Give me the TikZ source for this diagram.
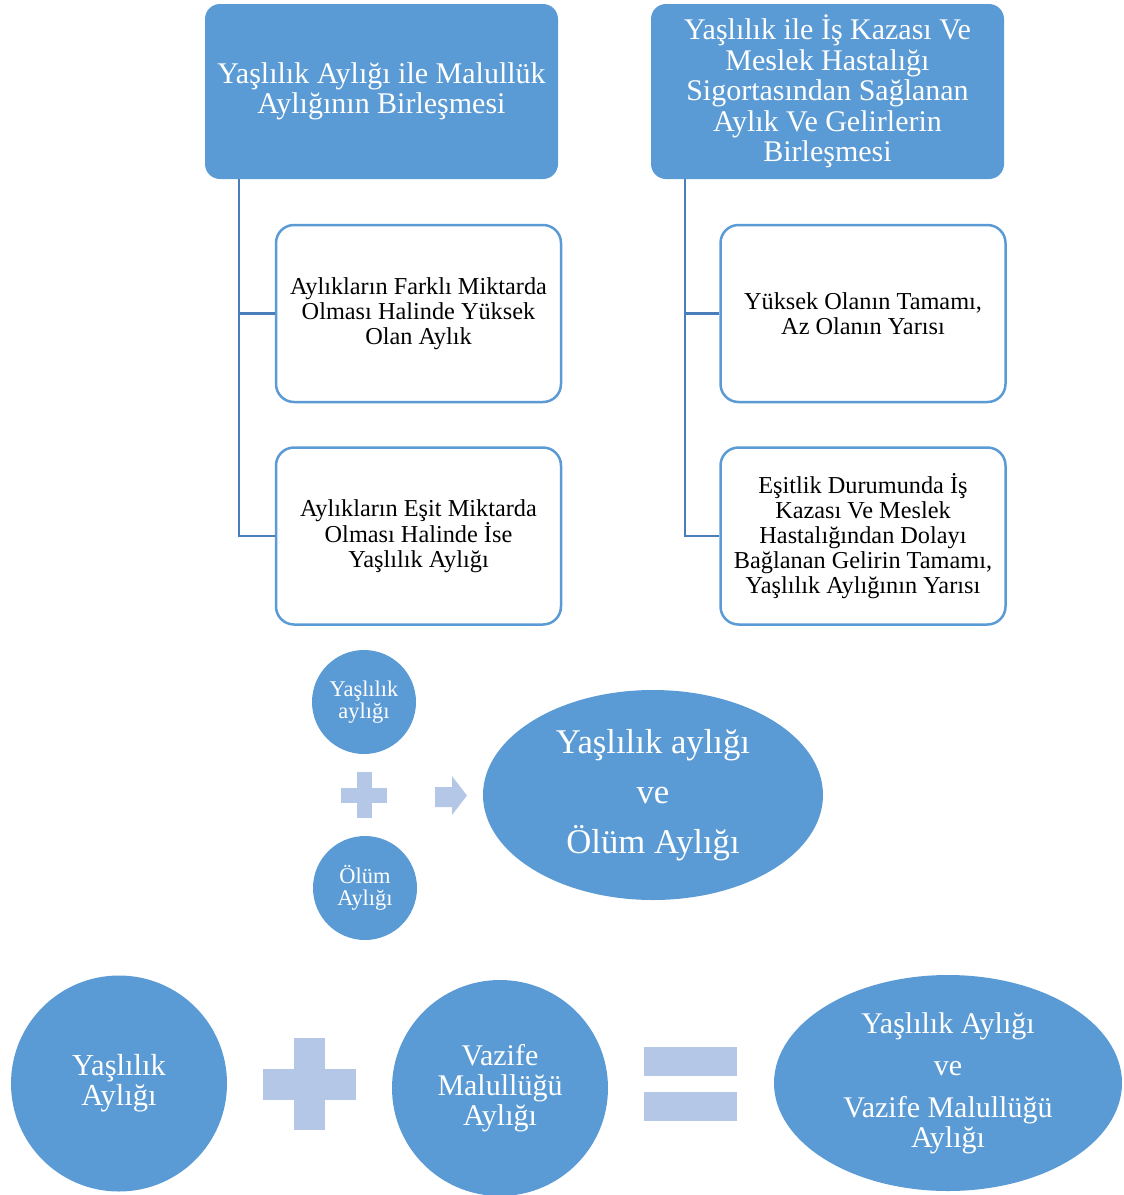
\documentclass[tikz,border=0pt]{standalone}
\usepackage{fontspec}
\setmainfont{Liberation Serif}
\usetikzlibrary{shapes.geometric}
\definecolor{boxblue}{HTML}{5B9BD5}
\definecolor{lineblue}{HTML}{4A7EBB}
\definecolor{paleblue}{HTML}{B4C7E7}

\begin{document}
\begin{tikzpicture}[x=1pt,y=-1pt]
        \useasboundingbox (0,0) rectangle (1124,1195);

        % two headings
        \begin{scope}[every node/.style={fill=boxblue,rounded corners=15pt,minimum width=353pt,minimum height=175pt,
            text=white,align=center,inner sep=0pt,font=\fontsize{30}{30.5}\selectfont}]
          \node (a) at (381.5,91.5) {Yaşlılık Aylığı ile Malullük\\Aylığının Birleşmesi};
          \node (b) at (827.5,91.5) {Yaşlılık ile İş Kazası Ve\\Meslek Hastalığı\\Sigortasından Sağlanan\\Aylık Ve Gelirlerin\\Birleşmesi};
        \end{scope}

        \begin{scope}[every node/.style={draw=boxblue,line width=2.5pt,fill=white,rounded corners=18pt,minimum width=285pt,
            minimum height=177pt,align=center,inner sep=0pt,font=\fontsize{24.3}{25}\selectfont}]
          \node (a1) at (418.5,313.5) {Aylıkların Farklı Miktarda\\Olması Halinde Yüksek\\Olan Aylık};
          \node (a2) at (418.5,536)   {Aylıkların Eşit Miktarda\\Olması Halinde İse\\Yaşlılık Aylığı};
          \node (b1) at (863,313.5)   {Yüksek Olanın Tamamı,\\Az Olanın Yarısı};
          \node (b2) at (863,536)     {Eşitlik Durumunda İş\\Kazası Ve Meslek\\Hastalığından Dolayı\\Bağlanan Gelirin Tamamı,\\Yaşlılık Aylığının Yarısı};
        \end{scope}

        \coordinate (a0) at ([xshift=34pt]a.south west);
        \coordinate (b0) at ([xshift=34pt]b.south west);

        \begin{scope}[lineblue,line width=2.5pt]
          \draw (a0) |- (a1.west);
          \draw (a0) |- (a2.west);
          \draw (b0) |- (b1.west);
          \draw (b0) |- (b2.west);
        \end{scope}

        % plus and arrow
        \begin{scope}[every node/.style={fill=boxblue,text=white,align=center,inner sep=0pt}]
          \node[circle,minimum size=104pt,font=\fontsize{22.4}{22}\selectfont] (c1) at (364,702) {Yaşlılık\\aylığı};
          \node[circle,minimum size=104pt,font=\fontsize{22.4}{22}\selectfont] (c2) at (365,888) {Ölüm\\Aylığı};
          \node[ellipse,minimum width=340pt,minimum height=210pt,font=\fontsize{34.7}{50}\selectfont] (e1) at (653,795)
            {Yaşlılık aylığı\\ve\\Ölüm Aylığı};

          \node[circle,minimum size=216pt,font=\fontsize{30.5}{30}\selectfont] (d1) at (119,1083.5) {Yaşlılık\\Aylığı};
          \node[circle,minimum size=216pt,font=\fontsize{30}{30}\selectfont] (d2) at (500,1088) {Vazife\\Malullüğü\\Aylığı};
          \node[ellipse,minimum width=348pt,minimum height=216pt,font=\fontsize{30}{30}\selectfont] (e2) at (948,1083)
            {Yaşlılık Aylığı\\[12pt]ve\\[12pt]Vazife Malullüğü\\Aylığı};
        \end{scope}

        \begin{scope}[paleblue]
          \fill (341,788) rectangle (387,803);
          \fill (357,772) rectangle (372,818);
          \fill (435,787) -- (452,787) -- (452,776) -- (467,795.5) -- (452,815) -- (452,807) -- (435,807) -- cycle;
          \fill (263,1069) rectangle (356,1100);
          \fill (294,1038) rectangle (325,1130);
          \fill (644,1047) rectangle (737,1076);
          \fill (644,1092) rectangle (737,1121);
        \end{scope}

\end{tikzpicture}
\end{document}
